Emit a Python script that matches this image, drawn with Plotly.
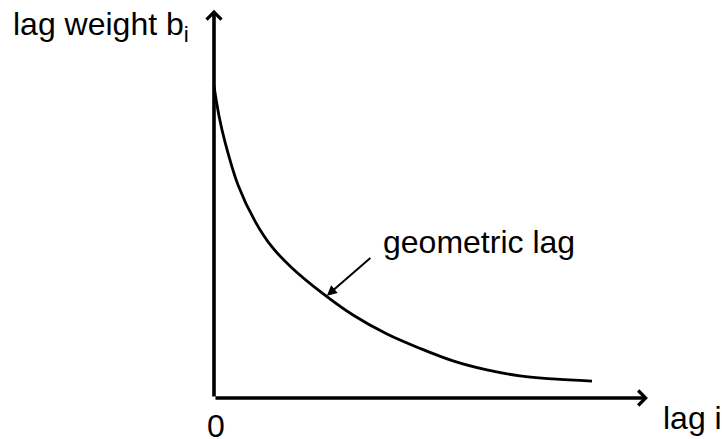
import plotly.graph_objects as go

# geometric lag curve (lag i, weight b_i)
lag = [0.0, 0.132, 0.289, 0.632, 1.079, 1.526, 2.053, 2.842, 3.658, 4.553,
       5.421, 6.289, 7.184, 8.053, 8.921, 9.947]
weight = [1.0, 0.904, 0.821, 0.683, 0.567, 0.484, 0.417, 0.337, 0.266, 0.205,
          0.159, 0.119, 0.090, 0.071, 0.061, 0.054]

# where the "geometric lag" label points on the curve
label_point = (2.97, 0.328)

# axis extents (arrow tips)
x_end = 11.42
y_end = 1.244

FONT = "Liberation Sans, Arial, sans-serif"
FONT_SIZE = 32

fig = go.Figure()

fig.add_trace(go.Scatter(
    x=lag, y=weight,
    mode="lines",
    line=dict(color="black", width=2.8, shape="spline", smoothing=1.0),
    hoverinfo="skip",
    showlegend=False,
))

# axes drawn as arrows
for (xa, ya) in [(x_end, 0), (0, y_end)]:
    fig.add_annotation(
        x=xa, y=ya, ax=0, ay=0,
        xref="x", yref="y", axref="x", ayref="y",
        text="", showarrow=True,
        arrowhead=4, arrowsize=0.8, arrowwidth=3.6, arrowcolor="black",
        standoff=0, startstandoff=0,
    )

# pointer to the curve
fig.add_annotation(
    x=label_point[0], y=label_point[1],
    xref="x", yref="y",
    ax=45, ay=-39,
    text="", showarrow=True,
    arrowhead=2, arrowsize=1.0, arrowwidth=2, arrowcolor="black",
    standoff=0,
)

fig.add_annotation(
    x=4.4, y=0.50, xref="x", yref="y",
    text="geometric lag", showarrow=False,
    xanchor="left", yanchor="middle",
    font=dict(family=FONT, size=FONT_SIZE, color="black"),
)
fig.add_annotation(
    x=0.05, y=-0.09, xref="x", yref="y",
    text="0", showarrow=False,
    xanchor="center", yanchor="middle",
    font=dict(family=FONT, size=FONT_SIZE, color="black"),
)
fig.add_annotation(
    x=11.77, y=-0.065, xref="x", yref="y",
    text="lag i", showarrow=False,
    xanchor="left", yanchor="middle",
    font=dict(family=FONT, size=FONT_SIZE, color="black"),
)
fig.add_annotation(
    x=-5.35, y=1.19, xref="x", yref="y",
    text="lag weight b<sub>i</sub>", showarrow=False,
    xanchor="left", yanchor="middle",
    font=dict(family=FONT, size=FONT_SIZE, color="black"),
)

fig.update_layout(
    width=722, height=439,
    margin=dict(l=0, r=0, t=0, b=0),
    paper_bgcolor="white", plot_bgcolor="white",
    xaxis=dict(range=[-214 / 38, 508 / 38], visible=False, fixedrange=True),
    yaxis=dict(range=[-41 / 312, 398 / 312], visible=False, fixedrange=True),
)

fig.write_html(
    "out.html",
    config={"displayModeBar": False, "staticPlot": True},
    post_script="document.body.style.margin = '0';",
)
